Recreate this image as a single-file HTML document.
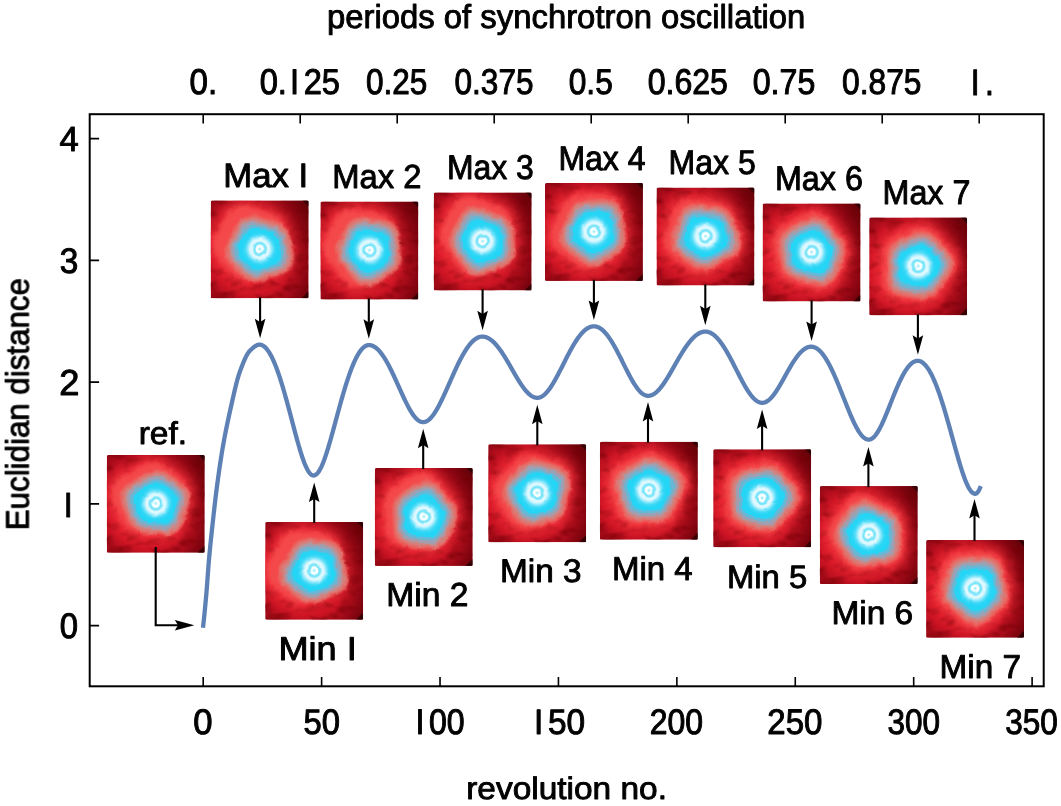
<!DOCTYPE html>
<html><head><meta charset="utf-8"><title>chart</title>
<style>
html,body{margin:0;padding:0;background:#fff;}
body{width:1061px;height:806px;overflow:hidden;}
svg{display:block;}
svg text{font-family:"Liberation Sans",sans-serif;font-size:32px;fill:#000;stroke:#000;stroke-width:0.9;vector-effect:non-scaling-stroke;stroke-linejoin:round;text-rendering:geometricPrecision;}
</style></head><body>
<svg width="1061" height="806" viewBox="0 0 1061 806">
<defs>
<radialGradient id="gV" gradientUnits="userSpaceOnUse" cx="41" cy="50" r="82">
<stop offset="0" stop-color="#e6202e"/><stop offset="0.40" stop-color="#e01b2a"/><stop offset="0.54" stop-color="#cc1424"/><stop offset="0.66" stop-color="#b00d1c"/><stop offset="0.78" stop-color="#8e0613"/><stop offset="0.9" stop-color="#68020a"/><stop offset="1" stop-color="#3a0002"/>
</radialGradient>
<linearGradient id="gR" x1="0" x2="1" y1="0.35" y2="0"><stop offset="0.5" stop-color="#6a0008" stop-opacity="0"/><stop offset="0.8" stop-color="#6a0008" stop-opacity="0.4"/><stop offset="1" stop-color="#5a0006" stop-opacity="0.7"/></linearGradient>
<radialGradient id="gC" gradientUnits="userSpaceOnUse" cx="0" cy="0" r="18">
<stop offset="0" stop-color="#a8eefb"/><stop offset="0.05" stop-color="#a8eefb"/><stop offset="0.11" stop-color="#fbffff"/><stop offset="0.2" stop-color="#fbffff"/><stop offset="0.29" stop-color="#74e4fa"/><stop offset="0.36" stop-color="#7ae5fa"/><stop offset="0.44" stop-color="#e2f9fe"/><stop offset="0.54" stop-color="#dcf8fe"/><stop offset="0.66" stop-color="#8fe8fb"/><stop offset="0.82" stop-color="#4cdaf7" stop-opacity=".6"/><stop offset="1" stop-color="#25d5f5" stop-opacity="0"/>
</radialGradient>
<filter color-interpolation-filters="sRGB" id="fD1" x="-20%" y="-20%" width="140%" height="140%"><feTurbulence type="fractalNoise" baseFrequency="0.14" numOctaves="2" seed="4"/><feDisplacementMap in="SourceGraphic" scale="4" xChannelSelector="R" yChannelSelector="G"/><feGaussianBlur stdDeviation="0.5"/></filter><filter color-interpolation-filters="sRGB" id="fD2" x="-20%" y="-20%" width="140%" height="140%"><feTurbulence type="fractalNoise" baseFrequency="0.14" numOctaves="2" seed="11"/><feDisplacementMap in="SourceGraphic" scale="4" xChannelSelector="R" yChannelSelector="G"/><feGaussianBlur stdDeviation="0.5"/></filter><filter color-interpolation-filters="sRGB" id="fD3" x="-20%" y="-20%" width="140%" height="140%"><feTurbulence type="fractalNoise" baseFrequency="0.14" numOctaves="2" seed="23"/><feDisplacementMap in="SourceGraphic" scale="4" xChannelSelector="R" yChannelSelector="G"/><feGaussianBlur stdDeviation="0.5"/></filter>
<filter color-interpolation-filters="sRGB" id="fDi" x="-20%" y="-20%" width="140%" height="140%"><feTurbulence type="fractalNoise" baseFrequency="0.12" numOctaves="1" seed="5"/><feDisplacementMap in="SourceGraphic" scale="2.5" xChannelSelector="R" yChannelSelector="G"/><feGaussianBlur stdDeviation="0.5"/></filter>
<filter color-interpolation-filters="sRGB" id="fN" x="0" y="0" width="100%" height="100%"><feTurbulence type="fractalNoise" baseFrequency="0.06 0.11" numOctaves="2" seed="7"/><feColorMatrix values="0 0 0 0 0.45  0 0 0 0 0  0 0 0 0 0.02  0 0 0 1.7 -0.78"/></filter>
<filter color-interpolation-filters="sRGB" id="fB0" x="-30%" y="-30%" width="160%" height="160%"><feGaussianBlur stdDeviation="0.35"/></filter>
<filter color-interpolation-filters="sRGB" id="fB1" x="-30%" y="-30%" width="160%" height="160%"><feGaussianBlur stdDeviation="0.8"/></filter>
<filter color-interpolation-filters="sRGB" id="fB2" x="-30%" y="-30%" width="160%" height="160%"><feGaussianBlur stdDeviation="1.3"/></filter>
<filter color-interpolation-filters="sRGB" id="fB3" x="-30%" y="-30%" width="160%" height="160%"><feGaussianBlur stdDeviation="2.6"/></filter>
<clipPath id="cp"><rect width="97.9" height="97.9" rx="1.5"/></clipPath>
<path id="bp" d="M23.1 0.0 22.4 3.0 21.0 5.6 19.2 7.9 17.2 9.9 15.4 11.9 13.8 13.8 12.2 15.9 10.3 17.9 8.1 19.6 5.5 20.6 2.8 21.0 0.0 20.7 -2.6 20.1 -5.2 19.4 -7.7 18.7 -10.4 18.0 -13.0 17.0 -15.5 15.5 -17.6 13.5 -19.1 11.0 -19.9 8.2 -20.1 5.4 -20.1 2.6 -20.2 0.0 -20.3 -2.7 -20.4 -5.5 -20.2 -8.4 -19.4 -11.2 -17.8 -13.7 -15.6 -15.6 -13.0 -16.9 -10.2 -17.7 -7.5 -18.2 -5.0 -18.8 -2.6 -19.4 -0.0 -20.1 2.7 -20.5 5.5 -20.3 8.1 -19.6 10.5 -18.2 12.6 -16.4 14.4 -14.4 16.2 -12.5 18.1 -10.4 20.0 -8.3 21.6 -5.8 22.8 -3.0Z"/>
<g id="bg"><rect width="97.9" height="97.9" fill="url(#gV)"/><rect width="97.9" height="97.9" fill="url(#gR)"/><rect width="97.9" height="97.9" filter="url(#fN)"/>
<path d="M91.9 0H97.9V6Z M90.9 97.9H97.9V90.9Z" fill="#200" opacity=".75"/></g>
<g id="halo"><use href="#bp" transform="scale(1.95)" fill="#ee303a" filter="url(#fB3)"/>
<use href="#bp" transform="scale(1.74)" fill="#f4484a" filter="url(#fB2)"/></g>
<g id="blobO"><use href="#bp" transform="scale(1.58)" fill="#e66c66" filter="url(#fB1)"/>
<use href="#bp" transform="scale(1.42)" fill="#c98a88" filter="url(#fB1)"/>
<use href="#bp" transform="scale(1.29)" fill="#9ea0b2" filter="url(#fB0)"/>
<use href="#bp" transform="scale(1.14)" fill="#66b8d6" filter="url(#fB0)"/>
<use href="#bp" transform="scale(0.99)" fill="#25d5f5" filter="url(#fB0)"/></g>
<circle id="blobI" r="18" fill="url(#gC)"/>
</defs>

<rect width="1061" height="806" fill="#fff"/>
<g id="gfx">
<path d="M203.20 625.60 L203.70 621.16 L204.20 616.47 L204.70 611.55 L205.20 606.40 L205.70 601.04 L206.20 595.50 L206.70 589.50 L207.20 582.97 L207.70 576.18 L208.20 569.44 L208.70 563.01 L209.20 557.19 L209.70 551.78 L210.20 546.61 L210.70 541.62 L211.20 536.80 L211.70 532.10 L212.20 527.48 L212.70 522.92 L213.20 518.38 L213.70 513.88 L214.20 509.44 L214.70 505.06 L215.20 500.77 L215.70 496.57 L216.20 492.47 L216.70 488.49 L217.20 484.65 L217.70 480.93 L218.20 477.27 L218.70 473.68 L219.20 470.16 L219.70 466.72 L220.20 463.35 L220.70 460.06 L221.20 456.86 L221.70 453.73 L222.20 450.70 L222.70 447.75 L223.20 444.89 L223.70 442.10 L224.20 439.38 L224.70 436.71 L225.20 434.09 L225.70 431.53 L226.20 429.02 L226.70 426.55 L227.20 424.13 L227.70 421.75 L228.20 419.40 L228.70 417.08 L229.20 414.79 L229.70 412.53 L230.20 410.29 L230.70 408.06 L231.20 405.82 L231.70 403.58 L232.20 401.33 L232.70 399.09 L233.20 396.86 L233.70 394.65 L234.20 392.47 L234.70 390.32 L235.20 388.21 L235.70 386.15 L236.20 384.14 L236.70 382.20 L237.20 380.32 L237.70 378.52 L238.20 376.80 L238.70 375.17 L239.20 373.63 L239.70 372.20 L240.20 370.83 L240.70 369.47 L241.20 368.12 L241.70 366.80 L242.20 365.50 L242.70 364.22 L243.20 362.98 L243.70 361.77 L244.20 360.59 L244.70 359.45 L245.20 358.35 L245.70 357.30 L246.20 356.30 L246.70 355.35 L247.20 354.45 L247.70 353.62 L248.20 352.84 L248.70 352.13 L249.20 351.48 L249.70 350.91 L250.20 350.40 L250.70 349.93 L251.20 349.46 L251.70 348.99 L252.20 348.54 L252.70 348.09 L253.20 347.67 L253.70 347.26 L254.20 346.87 L254.70 346.50 L255.20 346.15 L255.70 345.84 L256.20 345.55 L256.70 345.30 L257.20 345.08 L257.70 344.90 L258.20 344.76 L258.70 344.66 L259.20 344.61 L259.50 344.60 L260.00 344.62 L260.50 344.68 L261.00 344.79 L261.50 344.94 L262.00 345.13 L262.50 345.36 L263.00 345.64 L263.50 345.95 L264.00 346.31 L264.50 346.71 L265.00 347.15 L265.50 347.63 L266.00 348.16 L266.50 348.72 L267.00 349.33 L267.50 349.97 L268.00 350.66 L268.50 351.38 L269.00 352.15 L269.50 352.95 L270.00 353.80 L270.50 354.68 L271.00 355.60 L271.50 356.56 L272.00 357.55 L272.50 358.59 L273.00 359.66 L273.50 360.76 L274.00 361.90 L274.50 363.08 L275.00 364.29 L275.50 365.54 L276.00 366.81 L276.50 368.13 L277.00 369.47 L277.50 370.84 L278.00 372.25 L278.50 373.69 L279.00 375.15 L279.50 376.65 L280.00 378.17 L280.50 379.72 L281.00 381.30 L281.50 382.90 L282.00 384.53 L282.50 386.18 L283.00 387.86 L283.50 389.56 L284.00 391.27 L284.50 393.01 L285.00 394.77 L285.50 396.55 L286.00 398.34 L286.50 400.15 L287.00 401.97 L287.50 403.81 L288.00 405.66 L288.50 407.52 L289.00 409.39 L289.50 411.27 L290.00 413.16 L290.50 415.05 L291.00 416.95 L291.50 418.85 L292.00 420.75 L292.50 422.65 L293.00 424.55 L293.50 426.44 L294.00 428.33 L294.50 430.21 L295.00 432.08 L295.50 433.94 L296.00 435.79 L296.50 437.62 L297.00 439.44 L297.50 441.24 L298.00 443.02 L298.50 444.77 L299.00 446.50 L299.50 448.20 L300.00 449.87 L300.50 451.51 L301.00 453.11 L301.50 454.68 L302.00 456.21 L302.50 457.70 L303.00 459.14 L303.50 460.54 L304.00 461.89 L304.50 463.18 L305.00 464.43 L305.50 465.62 L306.00 466.75 L306.50 467.82 L307.00 468.83 L307.50 469.77 L308.00 470.65 L308.50 471.46 L309.00 472.20 L309.50 472.87 L310.00 473.47 L310.50 473.99 L311.00 474.43 L311.50 474.80 L312.00 475.10 L312.50 475.31 L313.00 475.44 L313.50 475.50 L313.60 475.50 L314.10 475.46 L314.60 475.35 L315.10 475.16 L315.60 474.90 L316.10 474.56 L316.60 474.15 L317.10 473.67 L317.60 473.11 L318.10 472.49 L318.60 471.80 L319.10 471.04 L319.60 470.21 L320.10 469.32 L320.60 468.37 L321.10 467.36 L321.60 466.29 L322.10 465.16 L322.60 463.98 L323.10 462.75 L323.60 461.47 L324.10 460.14 L324.60 458.76 L325.10 457.34 L325.60 455.88 L326.10 454.38 L326.60 452.84 L327.10 451.27 L327.60 449.67 L328.10 448.04 L328.60 446.38 L329.10 444.69 L329.60 442.98 L330.10 441.24 L330.60 439.49 L331.10 437.72 L331.60 435.93 L332.10 434.13 L332.60 432.32 L333.10 430.50 L333.60 428.66 L334.10 426.82 L334.60 424.98 L335.10 423.13 L335.60 421.28 L336.10 419.43 L336.60 417.57 L337.10 415.73 L337.60 413.88 L338.10 412.04 L338.60 410.21 L339.10 408.38 L339.60 406.56 L340.10 404.76 L340.60 402.96 L341.10 401.18 L341.60 399.41 L342.10 397.65 L342.60 395.91 L343.10 394.19 L343.60 392.49 L344.10 390.80 L344.60 389.13 L345.10 387.49 L345.60 385.87 L346.10 384.26 L346.60 382.69 L347.10 381.13 L347.60 379.60 L348.10 378.10 L348.60 376.62 L349.10 375.17 L349.60 373.75 L350.10 372.35 L350.60 370.99 L351.10 369.65 L351.60 368.35 L352.10 367.08 L352.60 365.83 L353.10 364.62 L353.60 363.44 L354.10 362.30 L354.60 361.19 L355.10 360.11 L355.60 359.07 L356.10 358.06 L356.60 357.08 L357.10 356.15 L357.60 355.25 L358.10 354.38 L358.60 353.55 L359.10 352.76 L359.60 352.01 L360.10 351.29 L360.60 350.62 L361.10 349.98 L361.60 349.37 L362.10 348.81 L362.60 348.29 L363.10 347.81 L363.60 347.36 L364.10 346.96 L364.60 346.59 L365.10 346.26 L365.60 345.98 L366.10 345.73 L366.60 345.53 L367.10 345.36 L367.60 345.24 L368.10 345.15 L368.60 345.11 L368.90 345.10 L369.40 345.11 L369.90 345.16 L370.40 345.23 L370.90 345.32 L371.40 345.45 L371.90 345.60 L372.40 345.78 L372.90 345.99 L373.40 346.23 L373.90 346.49 L374.40 346.78 L374.90 347.10 L375.40 347.44 L375.90 347.81 L376.40 348.21 L376.90 348.63 L377.40 349.08 L377.90 349.55 L378.40 350.05 L378.90 350.58 L379.40 351.13 L379.90 351.70 L380.40 352.30 L380.90 352.93 L381.40 353.57 L381.90 354.24 L382.40 354.93 L382.90 355.65 L383.40 356.38 L383.90 357.14 L384.40 357.92 L384.90 358.72 L385.40 359.54 L385.90 360.38 L386.40 361.24 L386.90 362.11 L387.40 363.01 L387.90 363.92 L388.40 364.85 L388.90 365.79 L389.40 366.75 L389.90 367.73 L390.40 368.72 L390.90 369.72 L391.40 370.74 L391.90 371.76 L392.40 372.80 L392.90 373.85 L393.40 374.91 L393.90 375.98 L394.40 377.06 L394.90 378.15 L395.40 379.24 L395.90 380.34 L396.40 381.44 L396.90 382.55 L397.40 383.66 L397.90 384.77 L398.40 385.89 L398.90 387.00 L399.40 388.12 L399.90 389.23 L400.40 390.34 L400.90 391.45 L401.40 392.56 L401.90 393.66 L402.40 394.75 L402.90 395.84 L403.40 396.92 L403.90 397.98 L404.40 399.04 L404.90 400.09 L405.40 401.13 L405.90 402.15 L406.40 403.16 L406.90 404.15 L407.40 405.12 L407.90 406.08 L408.40 407.02 L408.90 407.94 L409.40 408.84 L409.90 409.72 L410.40 410.57 L410.90 411.40 L411.40 412.21 L411.90 412.99 L412.40 413.74 L412.90 414.47 L413.40 415.17 L413.90 415.84 L414.40 416.48 L414.90 417.09 L415.40 417.66 L415.90 418.21 L416.40 418.72 L416.90 419.20 L417.40 419.64 L417.90 420.05 L418.40 420.42 L418.90 420.75 L419.40 421.05 L419.90 421.32 L420.40 421.54 L420.90 421.73 L421.40 421.88 L421.90 421.99 L422.40 422.06 L422.90 422.10 L423.10 422.10 L423.60 422.08 L424.10 422.03 L424.60 421.94 L425.10 421.81 L425.60 421.65 L426.10 421.45 L426.60 421.21 L427.10 420.94 L427.60 420.64 L428.10 420.30 L428.60 419.92 L429.10 419.52 L429.60 419.08 L430.10 418.60 L430.60 418.10 L431.10 417.56 L431.60 416.99 L432.10 416.39 L432.60 415.76 L433.10 415.11 L433.60 414.42 L434.10 413.71 L434.60 412.97 L435.10 412.20 L435.60 411.41 L436.10 410.60 L436.60 409.76 L437.10 408.90 L437.60 408.01 L438.10 407.11 L438.60 406.19 L439.10 405.24 L439.60 404.28 L440.10 403.31 L440.60 402.31 L441.10 401.30 L441.60 400.28 L442.10 399.24 L442.60 398.19 L443.10 397.13 L443.60 396.06 L444.10 394.97 L444.60 393.88 L445.10 392.78 L445.60 391.68 L446.10 390.56 L446.60 389.44 L447.10 388.32 L447.60 387.19 L448.10 386.06 L448.60 384.93 L449.10 383.80 L449.60 382.66 L450.10 381.53 L450.60 380.40 L451.10 379.26 L451.60 378.14 L452.10 377.01 L452.60 375.89 L453.10 374.77 L453.60 373.66 L454.10 372.56 L454.60 371.46 L455.10 370.37 L455.60 369.29 L456.10 368.22 L456.60 367.16 L457.10 366.10 L457.60 365.06 L458.10 364.03 L458.60 363.01 L459.10 362.01 L459.60 361.02 L460.10 360.04 L460.60 359.07 L461.10 358.12 L461.60 357.19 L462.10 356.27 L462.60 355.37 L463.10 354.48 L463.60 353.61 L464.10 352.76 L464.60 351.93 L465.10 351.11 L465.60 350.32 L466.10 349.54 L466.60 348.78 L467.10 348.05 L467.60 347.33 L468.10 346.64 L468.60 345.96 L469.10 345.31 L469.60 344.68 L470.10 344.07 L470.60 343.48 L471.10 342.92 L471.60 342.37 L472.10 341.86 L472.60 341.36 L473.10 340.89 L473.60 340.44 L474.10 340.01 L474.60 339.61 L475.10 339.24 L475.60 338.89 L476.10 338.56 L476.60 338.26 L477.10 337.98 L477.60 337.73 L478.10 337.50 L478.60 337.30 L479.10 337.12 L479.60 336.97 L480.10 336.85 L480.60 336.75 L481.10 336.67 L481.60 336.63 L482.10 336.60 L482.30 336.60 L482.80 336.61 L483.30 336.64 L483.80 336.70 L484.30 336.78 L484.80 336.88 L485.30 337.00 L485.80 337.15 L486.30 337.31 L486.80 337.50 L487.30 337.71 L487.80 337.94 L488.30 338.20 L488.80 338.47 L489.30 338.77 L489.80 339.08 L490.30 339.42 L490.80 339.78 L491.30 340.16 L491.80 340.56 L492.30 340.98 L492.80 341.42 L493.30 341.87 L493.80 342.35 L494.30 342.85 L494.80 343.36 L495.30 343.89 L495.80 344.45 L496.30 345.01 L496.80 345.60 L497.30 346.20 L497.80 346.82 L498.30 347.46 L498.80 348.11 L499.30 348.77 L499.80 349.45 L500.30 350.15 L500.80 350.86 L501.30 351.58 L501.80 352.32 L502.30 353.06 L502.80 353.82 L503.30 354.59 L503.80 355.38 L504.30 356.17 L504.80 356.97 L505.30 357.78 L505.80 358.60 L506.30 359.43 L506.80 360.26 L507.30 361.11 L507.80 361.95 L508.30 362.81 L508.80 363.67 L509.30 364.53 L509.80 365.39 L510.30 366.26 L510.80 367.14 L511.30 368.01 L511.80 368.88 L512.30 369.76 L512.80 370.63 L513.30 371.50 L513.80 372.37 L514.30 373.24 L514.80 374.10 L515.30 374.96 L515.80 375.81 L516.30 376.66 L516.80 377.51 L517.30 378.34 L517.80 379.17 L518.30 379.98 L518.80 380.79 L519.30 381.59 L519.80 382.38 L520.30 383.15 L520.80 383.92 L521.30 384.66 L521.80 385.40 L522.30 386.12 L522.80 386.82 L523.30 387.51 L523.80 388.18 L524.30 388.84 L524.80 389.47 L525.30 390.09 L525.80 390.69 L526.30 391.26 L526.80 391.82 L527.30 392.35 L527.80 392.87 L528.30 393.36 L528.80 393.82 L529.30 394.27 L529.80 394.68 L530.30 395.08 L530.80 395.45 L531.30 395.79 L531.80 396.11 L532.30 396.40 L532.80 396.66 L533.30 396.90 L533.80 397.11 L534.30 397.29 L534.80 397.45 L535.30 397.57 L535.80 397.67 L536.30 397.74 L536.80 397.79 L537.30 397.80 L537.80 397.78 L538.30 397.74 L538.80 397.66 L539.30 397.55 L539.80 397.40 L540.30 397.23 L540.80 397.02 L541.30 396.79 L541.80 396.52 L542.30 396.22 L542.80 395.90 L543.30 395.54 L543.80 395.15 L544.30 394.74 L544.80 394.29 L545.30 393.82 L545.80 393.33 L546.30 392.80 L546.80 392.25 L547.30 391.67 L547.80 391.07 L548.30 390.45 L548.80 389.80 L549.30 389.12 L549.80 388.43 L550.30 387.72 L550.80 386.98 L551.30 386.22 L551.80 385.45 L552.30 384.65 L552.80 383.84 L553.30 383.01 L553.80 382.17 L554.30 381.31 L554.80 380.44 L555.30 379.55 L555.80 378.65 L556.30 377.74 L556.80 376.81 L557.30 375.88 L557.80 374.94 L558.30 373.99 L558.80 373.03 L559.30 372.06 L559.80 371.09 L560.30 370.11 L560.80 369.13 L561.30 368.15 L561.80 367.16 L562.30 366.17 L562.80 365.18 L563.30 364.19 L563.80 363.19 L564.30 362.20 L564.80 361.21 L565.30 360.23 L565.80 359.24 L566.30 358.26 L566.80 357.29 L567.30 356.32 L567.80 355.36 L568.30 354.40 L568.80 353.45 L569.30 352.51 L569.80 351.57 L570.30 350.65 L570.80 349.74 L571.30 348.83 L571.80 347.94 L572.30 347.06 L572.80 346.19 L573.30 345.34 L573.80 344.49 L574.30 343.67 L574.80 342.85 L575.30 342.05 L575.80 341.27 L576.30 340.50 L576.80 339.75 L577.30 339.01 L577.80 338.30 L578.30 337.59 L578.80 336.91 L579.30 336.25 L579.80 335.60 L580.30 334.98 L580.80 334.37 L581.30 333.78 L581.80 333.22 L582.30 332.67 L582.80 332.15 L583.30 331.64 L583.80 331.16 L584.30 330.70 L584.80 330.26 L585.30 329.84 L585.80 329.44 L586.30 329.07 L586.80 328.72 L587.30 328.40 L587.80 328.09 L588.30 327.81 L588.80 327.56 L589.30 327.32 L589.80 327.11 L590.30 326.93 L590.80 326.77 L591.30 326.63 L591.80 326.51 L592.30 326.42 L592.80 326.36 L593.30 326.32 L593.80 326.30 L593.90 326.30 L594.40 326.31 L594.90 326.35 L595.40 326.42 L595.90 326.51 L596.40 326.62 L596.90 326.76 L597.40 326.93 L597.90 327.12 L598.40 327.34 L598.90 327.58 L599.40 327.85 L599.90 328.14 L600.40 328.46 L600.90 328.80 L601.40 329.17 L601.90 329.56 L602.40 329.98 L602.90 330.41 L603.40 330.88 L603.90 331.36 L604.40 331.87 L604.90 332.40 L605.40 332.95 L605.90 333.52 L606.40 334.12 L606.90 334.73 L607.40 335.37 L607.90 336.03 L608.40 336.71 L608.90 337.40 L609.40 338.12 L609.90 338.85 L610.40 339.60 L610.90 340.37 L611.40 341.16 L611.90 341.96 L612.40 342.78 L612.90 343.62 L613.40 344.47 L613.90 345.33 L614.40 346.21 L614.90 347.10 L615.40 348.01 L615.90 348.92 L616.40 349.85 L616.90 350.79 L617.40 351.73 L617.90 352.69 L618.40 353.65 L618.90 354.63 L619.40 355.61 L619.90 356.59 L620.40 357.58 L620.90 358.58 L621.40 359.58 L621.90 360.58 L622.40 361.59 L622.90 362.59 L623.40 363.60 L623.90 364.61 L624.40 365.61 L624.90 366.61 L625.40 367.62 L625.90 368.61 L626.40 369.61 L626.90 370.59 L627.40 371.57 L627.90 372.55 L628.40 373.51 L628.90 374.47 L629.40 375.42 L629.90 376.35 L630.40 377.28 L630.90 378.19 L631.40 379.08 L631.90 379.97 L632.40 380.83 L632.90 381.69 L633.40 382.52 L633.90 383.34 L634.40 384.13 L634.90 384.91 L635.40 385.67 L635.90 386.40 L636.40 387.11 L636.90 387.80 L637.40 388.47 L637.90 389.11 L638.40 389.72 L638.90 390.31 L639.40 390.87 L639.90 391.41 L640.40 391.91 L640.90 392.39 L641.40 392.84 L641.90 393.26 L642.40 393.65 L642.90 394.00 L643.40 394.33 L643.90 394.62 L644.40 394.89 L644.90 395.11 L645.40 395.31 L645.90 395.48 L646.40 395.61 L646.90 395.70 L647.40 395.77 L647.90 395.80 L648.10 395.80 L648.60 395.79 L649.10 395.75 L649.60 395.68 L650.10 395.58 L650.60 395.46 L651.10 395.31 L651.60 395.13 L652.10 394.93 L652.60 394.69 L653.10 394.44 L653.60 394.16 L654.10 393.85 L654.60 393.51 L655.10 393.15 L655.60 392.77 L656.10 392.36 L656.60 391.93 L657.10 391.48 L657.60 391.00 L658.10 390.50 L658.60 389.98 L659.10 389.43 L659.60 388.87 L660.10 388.29 L660.60 387.68 L661.10 387.06 L661.60 386.42 L662.10 385.76 L662.60 385.09 L663.10 384.39 L663.60 383.69 L664.10 382.96 L664.60 382.22 L665.10 381.47 L665.60 380.71 L666.10 379.93 L666.60 379.14 L667.10 378.34 L667.60 377.53 L668.10 376.72 L668.60 375.89 L669.10 375.05 L669.60 374.21 L670.10 373.36 L670.60 372.50 L671.10 371.64 L671.60 370.77 L672.10 369.90 L672.60 369.03 L673.10 368.15 L673.60 367.27 L674.10 366.39 L674.60 365.51 L675.10 364.63 L675.60 363.76 L676.10 362.88 L676.60 362.00 L677.10 361.13 L677.60 360.26 L678.10 359.39 L678.60 358.53 L679.10 357.68 L679.60 356.83 L680.10 355.98 L680.60 355.15 L681.10 354.32 L681.60 353.50 L682.10 352.68 L682.60 351.88 L683.10 351.09 L683.60 350.30 L684.10 349.53 L684.60 348.77 L685.10 348.01 L685.60 347.28 L686.10 346.55 L686.60 345.84 L687.10 345.14 L687.60 344.45 L688.10 343.78 L688.60 343.12 L689.10 342.48 L689.60 341.85 L690.10 341.24 L690.60 340.65 L691.10 340.07 L691.60 339.51 L692.10 338.96 L692.60 338.44 L693.10 337.93 L693.60 337.44 L694.10 336.96 L694.60 336.51 L695.10 336.07 L695.60 335.66 L696.10 335.26 L696.60 334.88 L697.10 334.52 L697.60 334.19 L698.10 333.87 L698.60 333.57 L699.10 333.29 L699.60 333.04 L700.10 332.80 L700.60 332.59 L701.10 332.39 L701.60 332.22 L702.10 332.07 L702.60 331.94 L703.10 331.83 L703.60 331.74 L704.10 331.67 L704.60 331.63 L705.10 331.60 L705.40 331.60 L705.90 331.61 L706.40 331.65 L706.90 331.71 L707.40 331.79 L707.90 331.90 L708.40 332.03 L708.90 332.19 L709.40 332.36 L709.90 332.57 L710.40 332.79 L710.90 333.04 L711.40 333.31 L711.90 333.61 L712.40 333.93 L712.90 334.27 L713.40 334.63 L713.90 335.01 L714.40 335.42 L714.90 335.85 L715.40 336.30 L715.90 336.78 L716.40 337.27 L716.90 337.78 L717.40 338.32 L717.90 338.87 L718.40 339.45 L718.90 340.05 L719.40 340.66 L719.90 341.29 L720.40 341.95 L720.90 342.62 L721.40 343.31 L721.90 344.01 L722.40 344.74 L722.90 345.48 L723.40 346.23 L723.90 347.00 L724.40 347.79 L724.90 348.59 L725.40 349.41 L725.90 350.24 L726.40 351.08 L726.90 351.94 L727.40 352.81 L727.90 353.69 L728.40 354.58 L728.90 355.48 L729.40 356.40 L729.90 357.32 L730.40 358.25 L730.90 359.19 L731.40 360.13 L731.90 361.09 L732.40 362.05 L732.90 363.01 L733.40 363.98 L733.90 364.95 L734.40 365.93 L734.90 366.91 L735.40 367.89 L735.90 368.88 L736.40 369.86 L736.90 370.85 L737.40 371.83 L737.90 372.81 L738.40 373.79 L738.90 374.77 L739.40 375.74 L739.90 376.71 L740.40 377.67 L740.90 378.62 L741.40 379.57 L741.90 380.51 L742.40 381.44 L742.90 382.36 L743.40 383.27 L743.90 384.17 L744.40 385.06 L744.90 385.94 L745.40 386.80 L745.90 387.64 L746.40 388.47 L746.90 389.29 L747.40 390.08 L747.90 390.86 L748.40 391.63 L748.90 392.37 L749.40 393.09 L749.90 393.79 L750.40 394.47 L750.90 395.13 L751.40 395.76 L751.90 396.37 L752.40 396.96 L752.90 397.52 L753.40 398.06 L753.90 398.57 L754.40 399.05 L754.90 399.50 L755.40 399.93 L755.90 400.33 L756.40 400.70 L756.90 401.05 L757.40 401.36 L757.90 401.64 L758.40 401.89 L758.90 402.12 L759.40 402.31 L759.90 402.47 L760.40 402.60 L760.90 402.69 L761.40 402.76 L761.90 402.79 L762.20 402.80 L762.70 402.78 L763.20 402.74 L763.70 402.65 L764.20 402.54 L764.70 402.40 L765.20 402.22 L765.70 402.01 L766.20 401.77 L766.70 401.50 L767.20 401.20 L767.70 400.87 L768.20 400.50 L768.70 400.11 L769.20 399.69 L769.70 399.25 L770.20 398.77 L770.70 398.27 L771.20 397.74 L771.70 397.19 L772.20 396.61 L772.70 396.01 L773.20 395.39 L773.70 394.74 L774.20 394.08 L774.70 393.39 L775.20 392.68 L775.70 391.95 L776.20 391.21 L776.70 390.45 L777.20 389.67 L777.70 388.88 L778.20 388.08 L778.70 387.26 L779.20 386.43 L779.70 385.59 L780.20 384.73 L780.70 383.87 L781.20 383.01 L781.70 382.13 L782.20 381.25 L782.70 380.36 L783.20 379.47 L783.70 378.57 L784.20 377.68 L784.70 376.78 L785.20 375.88 L785.70 374.98 L786.20 374.08 L786.70 373.19 L787.20 372.29 L787.70 371.41 L788.20 370.52 L788.70 369.65 L789.20 368.78 L789.70 367.91 L790.20 367.06 L790.70 366.21 L791.20 365.38 L791.70 364.55 L792.20 363.74 L792.70 362.93 L793.20 362.14 L793.70 361.37 L794.20 360.61 L794.70 359.86 L795.20 359.13 L795.70 358.41 L796.20 357.71 L796.70 357.03 L797.20 356.37 L797.70 355.72 L798.20 355.09 L798.70 354.49 L799.20 353.90 L799.70 353.33 L800.20 352.78 L800.70 352.26 L801.20 351.76 L801.70 351.27 L802.20 350.82 L802.70 350.38 L803.20 349.97 L803.70 349.58 L804.20 349.21 L804.70 348.87 L805.20 348.55 L805.70 348.26 L806.20 347.99 L806.70 347.74 L807.20 347.53 L807.70 347.33 L808.20 347.17 L808.70 347.02 L809.20 346.91 L809.70 346.82 L810.20 346.75 L810.70 346.71 L811.20 346.70 L811.70 346.71 L812.20 346.76 L812.70 346.83 L813.20 346.93 L813.70 347.06 L814.20 347.22 L814.70 347.41 L815.20 347.62 L815.70 347.87 L816.20 348.14 L816.70 348.44 L817.20 348.77 L817.70 349.13 L818.20 349.51 L818.70 349.92 L819.20 350.36 L819.70 350.83 L820.20 351.33 L820.70 351.85 L821.20 352.39 L821.70 352.97 L822.20 353.57 L822.70 354.19 L823.20 354.85 L823.70 355.52 L824.20 356.22 L824.70 356.95 L825.20 357.70 L825.70 358.48 L826.20 359.27 L826.70 360.09 L827.20 360.94 L827.70 361.80 L828.20 362.69 L828.70 363.60 L829.20 364.53 L829.70 365.48 L830.20 366.45 L830.70 367.44 L831.20 368.45 L831.70 369.48 L832.20 370.52 L832.70 371.59 L833.20 372.67 L833.70 373.76 L834.20 374.87 L834.70 376.00 L835.20 377.14 L835.70 378.29 L836.20 379.46 L836.70 380.64 L837.20 381.83 L837.70 383.03 L838.20 384.25 L838.70 385.47 L839.20 386.70 L839.70 387.93 L840.20 389.18 L840.70 390.43 L841.20 391.68 L841.70 392.94 L842.20 394.21 L842.70 395.47 L843.20 396.74 L843.70 398.01 L844.20 399.28 L844.70 400.55 L845.20 401.81 L845.70 403.07 L846.20 404.33 L846.70 405.59 L847.20 406.83 L847.70 408.07 L848.20 409.31 L848.70 410.53 L849.20 411.74 L849.70 412.94 L850.20 414.13 L850.70 415.31 L851.20 416.47 L851.70 417.61 L852.20 418.74 L852.70 419.85 L853.20 420.94 L853.70 422.00 L854.20 423.05 L854.70 424.08 L855.20 425.08 L855.70 426.06 L856.20 427.01 L856.70 427.93 L857.20 428.83 L857.70 429.69 L858.20 430.53 L858.70 431.33 L859.20 432.11 L859.70 432.84 L860.20 433.55 L860.70 434.22 L861.20 434.85 L861.70 435.45 L862.20 436.01 L862.70 436.53 L863.20 437.02 L863.70 437.46 L864.20 437.86 L864.70 438.22 L865.20 438.54 L865.70 438.82 L866.20 439.06 L866.70 439.25 L867.20 439.41 L867.70 439.51 L868.20 439.58 L868.70 439.60 L869.20 439.58 L869.70 439.50 L870.20 439.38 L870.70 439.21 L871.20 438.99 L871.70 438.72 L872.20 438.41 L872.70 438.04 L873.20 437.64 L873.70 437.18 L874.20 436.68 L874.70 436.14 L875.20 435.56 L875.70 434.93 L876.20 434.26 L876.70 433.55 L877.20 432.81 L877.70 432.02 L878.20 431.20 L878.70 430.35 L879.20 429.46 L879.70 428.54 L880.20 427.59 L880.70 426.61 L881.20 425.60 L881.70 424.56 L882.20 423.50 L882.70 422.42 L883.20 421.31 L883.70 420.18 L884.20 419.04 L884.70 417.87 L885.20 416.69 L885.70 415.50 L886.20 414.29 L886.70 413.07 L887.20 411.84 L887.70 410.60 L888.20 409.36 L888.70 408.11 L889.20 406.85 L889.70 405.59 L890.20 404.33 L890.70 403.06 L891.20 401.80 L891.70 400.54 L892.20 399.28 L892.70 398.03 L893.20 396.78 L893.70 395.54 L894.20 394.31 L894.70 393.09 L895.20 391.87 L895.70 390.67 L896.20 389.48 L896.70 388.30 L897.20 387.14 L897.70 385.99 L898.20 384.86 L898.70 383.75 L899.20 382.65 L899.70 381.58 L900.20 380.52 L900.70 379.48 L901.20 378.47 L901.70 377.48 L902.20 376.51 L902.70 375.56 L903.20 374.64 L903.70 373.74 L904.20 372.87 L904.70 372.03 L905.20 371.21 L905.70 370.42 L906.20 369.66 L906.70 368.93 L907.20 368.22 L907.70 367.55 L908.20 366.90 L908.70 366.29 L909.20 365.70 L909.70 365.15 L910.20 364.63 L910.70 364.14 L911.20 363.69 L911.70 363.26 L912.20 362.87 L912.70 362.51 L913.20 362.19 L913.70 361.90 L914.20 361.64 L914.70 361.42 L915.20 361.23 L915.70 361.08 L916.20 360.96 L916.70 360.87 L917.20 360.82 L917.70 360.80 L918.20 360.82 L918.70 360.87 L919.20 360.97 L919.70 361.10 L920.20 361.26 L920.70 361.47 L921.20 361.71 L921.70 361.99 L922.20 362.30 L922.70 362.65 L923.20 363.04 L923.70 363.47 L924.20 363.93 L924.70 364.42 L925.20 364.96 L925.70 365.52 L926.20 366.13 L926.70 366.77 L927.20 367.44 L927.70 368.15 L928.20 368.90 L928.70 369.68 L929.20 370.49 L929.70 371.34 L930.20 372.22 L930.70 373.13 L931.20 374.08 L931.70 375.06 L932.20 376.07 L932.70 377.11 L933.20 378.19 L933.70 379.29 L934.20 380.43 L934.70 381.60 L935.20 382.79 L935.70 384.02 L936.20 385.28 L936.70 386.56 L937.20 387.87 L937.70 389.21 L938.20 390.58 L938.70 391.97 L939.20 393.39 L939.70 394.83 L940.20 396.30 L940.70 397.79 L941.20 399.31 L941.70 400.85 L942.20 402.41 L942.70 403.99 L943.20 405.59 L943.70 407.21 L944.20 408.85 L944.70 410.51 L945.20 412.19 L945.70 413.88 L946.20 415.59 L946.70 417.31 L947.20 419.05 L947.70 420.79 L948.20 422.55 L948.70 424.33 L949.20 426.11 L949.70 427.90 L950.20 429.69 L950.70 431.50 L951.20 433.31 L951.70 435.12 L952.20 436.93 L952.70 438.75 L953.20 440.57 L953.70 442.38 L954.20 444.19 L954.70 446.00 L955.20 447.80 L955.70 449.60 L956.20 451.39 L956.70 453.16 L957.20 454.92 L957.70 456.67 L958.20 458.41 L958.70 460.13 L959.20 461.82 L959.70 463.50 L960.20 465.15 L960.70 466.78 L961.20 468.38 L961.70 469.95 L962.20 471.49 L962.70 473.00 L963.20 474.47 L963.70 475.91 L964.20 477.30 L964.70 478.65 L965.20 479.96 L965.70 481.22 L966.20 482.44 L966.70 483.60 L967.20 484.71 L967.70 485.76 L968.20 486.76 L968.70 487.70 L969.20 488.58 L969.70 489.39 L970.20 490.14 L970.70 490.82 L971.20 491.44 L971.70 491.99 L972.20 492.47 L972.70 492.87 L973.20 493.20 L973.70 493.46 L974.20 493.65 L974.70 493.76 L975.20 493.80 L975.45 493.78 L975.70 493.73 L975.95 493.65 L976.20 493.54 L976.45 493.39 L976.70 493.21 L976.95 493.00 L977.20 492.75 L977.45 492.48 L977.70 492.17 L977.95 491.83 L978.20 491.46 L978.45 491.06 L978.70 490.63 L978.95 490.18 L979.20 489.69 L979.45 489.17 L979.70 488.62 L979.95 488.05" fill="none" stroke="#5E81B5" stroke-width="4.3" stroke-linejoin="round" stroke-linecap="square"/>
<rect x="89.7" y="114.2" width="954.00" height="572.10" fill="none" stroke="#000" stroke-width="2"/>
<path d="M203.20 686.3 v-9.4 M321.62 686.3 v-9.4 M440.03 686.3 v-9.4 M558.44 686.3 v-9.4 M676.86 686.3 v-9.4 M795.28 686.3 v-9.4 M913.69 686.3 v-9.4 M1032.11 686.3 v-9.4 M203.20 114.2 v9.4 M300.20 114.2 v9.4 M397.20 114.2 v9.4 M494.20 114.2 v9.4 M591.20 114.2 v9.4 M688.20 114.2 v9.4 M785.20 114.2 v9.4 M882.20 114.2 v9.4 M979.20 114.2 v9.4 M89.7 625.60 h9.4 M89.7 503.85 h9.4 M89.7 382.10 h9.4 M89.7 260.35 h9.4 M89.7 138.60 h9.4" stroke="#000" stroke-width="1.6" fill="none"/>
<g transform="translate(106.8,454.9)" clip-path="url(#cp)"><use href="#bg"/><g transform="translate(49,48.6)" filter="url(#fD1)"><use href="#halo" transform="translate(-5,-4) rotate(200)"/><use href="#blobO" transform="rotate(200)"/></g><use href="#blobI" transform="translate(49,48.6) rotate(200)" filter="url(#fDi)"/></g>
<g transform="translate(210.7,200.4)" clip-path="url(#cp)"><use href="#bg"/><g transform="translate(49,48.6)" filter="url(#fD2)"><use href="#halo" transform="translate(-8,-6) rotate(30)"/><use href="#blobO" transform="rotate(30)"/></g><use href="#blobI" transform="translate(49,48.6) rotate(30)" filter="url(#fDi)"/></g>
<g transform="translate(320.4,201.6)" clip-path="url(#cp)"><use href="#bg"/><g transform="translate(49,48.6)" filter="url(#fD3)"><use href="#halo" transform="translate(-9,-4) rotate(100)"/><use href="#blobO" transform="rotate(100)"/></g><use href="#blobI" transform="translate(49,48.6) rotate(100)" filter="url(#fDi)"/></g>
<g transform="translate(433.7,192.5)" clip-path="url(#cp)"><use href="#bg"/><g transform="translate(49,48.6)" filter="url(#fD1)"><use href="#halo" transform="translate(-5,-6) rotate(250)"/><use href="#blobO" transform="rotate(250)"/></g><use href="#blobI" transform="translate(49,48.6) rotate(250)" filter="url(#fDi)"/></g>
<g transform="translate(545.0,183.0)" clip-path="url(#cp)"><use href="#bg"/><g transform="translate(49,48.6)" filter="url(#fD2)"><use href="#halo" transform="translate(-5,-2) rotate(310)"/><use href="#blobO" transform="rotate(310)"/></g><use href="#blobI" transform="translate(49,48.6) rotate(310)" filter="url(#fDi)"/></g>
<g transform="translate(656.5,187.6)" clip-path="url(#cp)"><use href="#bg"/><g transform="translate(49,48.6)" filter="url(#fD3)"><use href="#halo" transform="translate(-3,-1) rotate(20)"/><use href="#blobO" transform="rotate(20)"/></g><use href="#blobI" transform="translate(49,48.6) rotate(20)" filter="url(#fDi)"/></g>
<g transform="translate(762.6,203.5)" clip-path="url(#cp)"><use href="#bg"/><g transform="translate(49,48.6)" filter="url(#fD1)"><use href="#halo" transform="translate(-1.5,-1) rotate(65)"/><use href="#blobO" transform="rotate(65)"/></g><use href="#blobI" transform="translate(49,48.6) rotate(65)" filter="url(#fDi)"/></g>
<g transform="translate(869.2,217.4)" clip-path="url(#cp)"><use href="#bg"/><g transform="translate(49,48.6)" filter="url(#fD2)"><use href="#halo" transform="translate(-1.5,-1) rotate(140)"/><use href="#blobO" transform="rotate(140)"/></g><use href="#blobI" transform="translate(49,48.6) rotate(140)" filter="url(#fDi)"/></g>
<g transform="translate(265.2,521.9)" clip-path="url(#cp)"><use href="#bg"/><g transform="translate(49,48.6)" filter="url(#fD3)"><use href="#halo" transform="translate(-9,-4) rotate(170)"/><use href="#blobO" transform="rotate(170)"/></g><use href="#blobI" transform="translate(49,48.6) rotate(170)" filter="url(#fDi)"/></g>
<g transform="translate(374.8,468.0)" clip-path="url(#cp)"><use href="#bg"/><g transform="translate(49,48.6)" filter="url(#fD1)"><use href="#halo" transform="translate(-5,-4) rotate(280)"/><use href="#blobO" transform="rotate(280)"/></g><use href="#blobI" transform="translate(49,48.6) rotate(280)" filter="url(#fDi)"/></g>
<g transform="translate(488.2,444.3)" clip-path="url(#cp)"><use href="#bg"/><g transform="translate(49,48.6)" filter="url(#fD2)"><use href="#halo" transform="translate(-4,-1) rotate(330)"/><use href="#blobO" transform="rotate(330)"/></g><use href="#blobI" transform="translate(49,48.6) rotate(330)" filter="url(#fDi)"/></g>
<g transform="translate(599.9,441.8)" clip-path="url(#cp)"><use href="#bg"/><g transform="translate(49,48.6)" filter="url(#fD3)"><use href="#halo" transform="translate(-1.5,-1) rotate(345)"/><use href="#blobO" transform="rotate(345)"/></g><use href="#blobI" transform="translate(49,48.6) rotate(345)" filter="url(#fDi)"/></g>
<g transform="translate(713.2,449.3)" clip-path="url(#cp)"><use href="#bg"/><g transform="translate(49,48.6)" filter="url(#fD1)"><use href="#halo" transform="translate(-1.5,-1) rotate(0)"/><use href="#blobO" transform="rotate(0)"/></g><use href="#blobI" transform="translate(49,48.6) rotate(0)" filter="url(#fDi)"/></g>
<g transform="translate(819.8,486.1)" clip-path="url(#cp)"><use href="#bg"/><g transform="translate(49,48.6)" filter="url(#fD2)"><use href="#halo" transform="translate(-1.5,-1) rotate(40)"/><use href="#blobO" transform="rotate(40)"/></g><use href="#blobI" transform="translate(49,48.6) rotate(40)" filter="url(#fDi)"/></g>
<g transform="translate(926.1,539.9)" clip-path="url(#cp)"><use href="#bg"/><g transform="translate(49,48.6)" filter="url(#fD3)"><use href="#halo" transform="translate(-1.5,-1) rotate(90)"/><use href="#blobO" transform="rotate(90)"/></g><use href="#blobI" transform="translate(49,48.6) rotate(90)" filter="url(#fDi)"/></g>
<path d="M260.1 297.3 V322.2" stroke="#000" stroke-width="2.1" fill="none"/><path d="M260.1 338.2 L254.8 318.7 L260.1 321.9 L265.40000000000003 318.7Z" fill="#000"/>
<path d="M368.8 298.5 V322.7" stroke="#000" stroke-width="2.1" fill="none"/><path d="M368.8 338.7 L363.5 319.2 L368.8 322.4 L374.1 319.2Z" fill="#000"/>
<path d="M482.6 289.4 V314.2" stroke="#000" stroke-width="2.1" fill="none"/><path d="M482.6 330.2 L477.3 310.7 L482.6 313.9 L487.90000000000003 310.7Z" fill="#000"/>
<path d="M593.9 279.9 V303.9" stroke="#000" stroke-width="2.1" fill="none"/><path d="M593.9 319.9 L588.6 300.4 L593.9 303.59999999999997 L599.1999999999999 300.4Z" fill="#000"/>
<path d="M705.3 284.5 V309.3" stroke="#000" stroke-width="2.1" fill="none"/><path d="M705.3 325.3 L700.0 305.8 L705.3 309.0 L710.5999999999999 305.8Z" fill="#000"/>
<path d="M811.6 300.4 V324.9" stroke="#000" stroke-width="2.1" fill="none"/><path d="M811.6 340.9 L806.3000000000001 321.4 L811.6 324.59999999999997 L816.9 321.4Z" fill="#000"/>
<path d="M917.9 314.3 V338.7" stroke="#000" stroke-width="2.1" fill="none"/><path d="M917.9 354.7 L912.6 335.2 L917.9 338.4 L923.1999999999999 335.2Z" fill="#000"/>
<path d="M314.2 522.9 V498.6" stroke="#000" stroke-width="2.1" fill="none"/><path d="M314.2 482.6 L308.9 502.1 L314.2 498.90000000000003 L319.5 502.1Z" fill="#000"/>
<path d="M423.2 469.0 V444.8" stroke="#000" stroke-width="2.1" fill="none"/><path d="M423.2 428.8 L417.9 448.3 L423.2 445.1 L428.5 448.3Z" fill="#000"/>
<path d="M537.3 445.3 V420.8" stroke="#000" stroke-width="2.1" fill="none"/><path d="M537.3 404.8 L532.0 424.3 L537.3 421.1 L542.5999999999999 424.3Z" fill="#000"/>
<path d="M648.0 442.8 V418.0" stroke="#000" stroke-width="2.1" fill="none"/><path d="M648.0 402.0 L642.7 421.5 L648.0 418.3 L653.3 421.5Z" fill="#000"/>
<path d="M762.1 450.3 V425.4" stroke="#000" stroke-width="2.1" fill="none"/><path d="M762.1 409.4 L756.8000000000001 428.9 L762.1 425.7 L767.4 428.9Z" fill="#000"/>
<path d="M868.4 487.1 V463.0" stroke="#000" stroke-width="2.1" fill="none"/><path d="M868.4 447.0 L863.1 466.5 L868.4 463.3 L873.6999999999999 466.5Z" fill="#000"/>
<path d="M974.5 540.9 V515.0" stroke="#000" stroke-width="2.1" fill="none"/><path d="M974.5 499.0 L969.2 518.5 L974.5 515.3 L979.8 518.5Z" fill="#000"/>
<path d="M155.7 547 V625.3 H178" stroke="#000" stroke-width="2.1" fill="none" stroke-linejoin="miter"/><path d="M194.3 625.3 L174.8 620 L178 625.3 L174.8 630.6Z" fill="#000"/>
</g>
<g id="txt" opacity="0.999">
<text transform="translate(326.99,28.19) scale(1.0265,1.0397)">periods of synchrotron oscillation</text>
<text transform="translate(189.48,94.27) scale(1.0351,1.1148)">0.</text>
<text transform="translate(259.67,94.27) scale(1.0205,1.1158)">0.<tspan dx="3">I</tspan><tspan dx="4.5">25</tspan></text>
<text transform="translate(366.09,94.27) scale(0.9841,1.1162)">0.25</text>
<text transform="translate(454.56,94.27) scale(0.9852,1.1160)">0.375</text>
<text transform="translate(568.74,94.27) scale(0.9892,1.1150)">0.5</text>
<text transform="translate(647.64,94.27) scale(1.0027,1.1143)">0.625</text>
<text transform="translate(752.72,94.27) scale(1.0044,1.1163)">0.75</text>
<text transform="translate(842.07,94.27) scale(0.9910,1.1175)">0.875</text>
<text transform="translate(970.72,94.71) scale(0.9947,1.1488)">I<tspan dx="5.5">.</tspan></text>
<text transform="translate(59.60,151.34) scale(1.0800,1.0905)">4</text>
<text transform="translate(59.66,273.03) scale(1.0432,1.1096)">3</text>
<text transform="translate(59.29,395.24) scale(1.1321,1.1267)">2</text>
<text transform="translate(63.87,516.60) scale(1.0037,1.0897)">I</text>
<text transform="translate(59.84,638.27) scale(1.0278,1.1033)">0</text>
<text transform="translate(193.21,733.80) scale(1.0826,1.1048)">0</text>
<text transform="translate(303.59,733.80) scale(1.0243,1.1039)">50</text>
<text transform="translate(415.57,733.79) scale(1.0014,1.1099)">I<tspan dx="4.5">00</tspan></text>
<text transform="translate(533.95,733.80) scale(1.0444,1.1021)">I<tspan dx="4.5">50</tspan></text>
<text transform="translate(649.64,733.79) scale(0.9990,1.1085)">200</text>
<text transform="translate(767.29,733.79) scale(1.0336,1.1100)">250</text>
<text transform="translate(887.43,733.79) scale(0.9831,1.1092)">300</text>
<text transform="translate(1005.14,733.79) scale(0.9842,1.1104)">350</text>
<text transform="translate(466.17,799.41) scale(1.0453,0.9765)">revolution no.</text>
<text transform="translate(28.98,530.24) rotate(-90) scale(0.9776,1.0128)">Euclidian distance</text>
<text transform="translate(223.33,187.29) scale(1.0851,1.0606)">Max I</text>
<text transform="translate(332.30,188.28) scale(1.0237,1.0471)">Max 2</text>
<text transform="translate(446.93,179.17) scale(0.9957,1.0700)">Max 3</text>
<text transform="translate(558.40,169.97) scale(1.0003,1.0737)">Max 4</text>
<text transform="translate(668.56,173.70) scale(1.0014,1.0737)">Max 5</text>
<text transform="translate(774.93,190.18) scale(1.0099,1.0644)">Max 6</text>
<text transform="translate(882.57,203.60) scale(1.0079,1.0669)">Max 7</text>
<text transform="translate(278.45,660.23) scale(1.1300,1.0298)">Min I</text>
<text transform="translate(386.35,606.22) scale(1.0503,1.0374)">Min 2</text>
<text transform="translate(500.05,582.19) scale(1.0420,1.0190)">Min 3</text>
<text transform="translate(611.94,579.92) scale(1.0312,1.0298)">Min 4</text>
<text transform="translate(726.92,587.99) scale(1.0251,1.0120)">Min 5</text>
<text transform="translate(831.40,624.40) scale(1.0455,1.0254)">Min 6</text>
<text transform="translate(939.56,677.61) scale(1.0414,1.0298)">Min 7</text>
<text transform="translate(138.63,444.00) scale(1.0455,0.9837)">ref.</text>
</g>
</svg>
</body></html>
